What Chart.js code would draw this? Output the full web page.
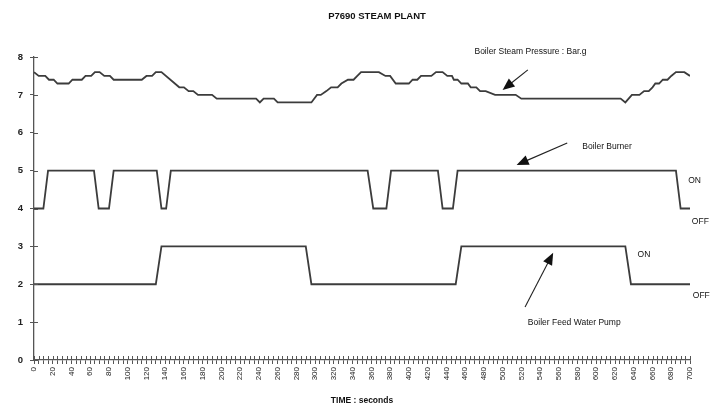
<!DOCTYPE html>
<html>
<head>
<meta charset="utf-8">
<script src="https://cdn.jsdelivr.net/npm/chart.js@4.4.1/dist/chart.umd.min.js"></script>
<style>
  html, body { margin: 0; padding: 0; background: #fff; }
  #wrap { width: 722px; height: 407px; }
</style>
</head>
<body>
<div id="wrap"><canvas id="steamChart"></canvas></div>
<script>
// break points (seconds, value)
const pressureTimes = [0, 5, 12, 16, 21, 25, 37, 41, 51, 55, 61, 65, 70, 75, 81, 85, 115, 120, 126, 130, 136,
  155, 160, 165, 170, 175, 190, 195, 237, 241, 245, 256, 260, 296, 302, 306, 312, 317, 324, 328, 335, 341,
  345, 349, 368, 375, 380, 386, 400, 404, 409, 413, 424, 429, 436, 441, 446, 448, 452, 456, 463, 466, 472,
  476, 482, 492, 514, 520, 626, 631, 638, 646, 651, 656, 660, 663, 667, 671, 676, 680, 685, 694, 700];
const pressureBar = [7.6, 7.5, 7.5, 7.4, 7.4, 7.3, 7.3, 7.4, 7.4, 7.5, 7.5, 7.6, 7.6, 7.5, 7.5, 7.4, 7.4, 7.5, 7.5, 7.6, 7.6,
  7.2, 7.2, 7.1, 7.1, 7.0, 7.0, 6.9, 6.9, 6.8, 6.9, 6.9, 6.8, 6.8, 7.0, 7.0, 7.1, 7.2, 7.2, 7.3, 7.4, 7.4,
  7.5, 7.6, 7.6, 7.5, 7.5, 7.3, 7.3, 7.4, 7.4, 7.5, 7.5, 7.6, 7.6, 7.5, 7.5, 7.4, 7.4, 7.3, 7.3, 7.2, 7.2,
  7.1, 7.1, 7.0, 7.0, 6.9, 6.9, 6.8, 7.0, 7.0, 7.1, 7.1, 7.2, 7.3, 7.3, 7.4, 7.4, 7.5, 7.6, 7.6, 7.5];

const burnerTimes = [0, 10, 15, 64, 69, 80, 85, 131, 136, 141, 146, 356, 362, 376, 381, 431, 436, 447, 452, 685, 690, 700];
const burnerLevel = [4, 4, 5, 5, 4, 4, 5, 5, 4, 4, 5, 5, 4, 4, 5, 5, 4, 4, 5, 5, 4, 4];

const pumpTimes = [0, 130, 136, 290, 296, 450, 456, 631, 637, 700];
const pumpLevel = [2, 2, 3, 3, 2, 2, 3, 3, 2, 2];

const timeMin = 0, timeMax = 700, timeStep = 5, labelStep = 20;
const yMin = 0, yMax = 8;

// notes drawn on the chart, placed in data units
const notes = [
  { text: 'Boiler Steam Pressure : Bar.g', t: 470, v: 8.13 },
  { text: 'Boiler Burner', t: 585, v: 5.63 },
  { text: 'ON', t: 698, v: 4.73 },
  { text: 'OFF', t: 702, v: 3.65 },
  { text: 'ON', t: 644, v: 2.78 },
  { text: 'OFF', t: 703, v: 1.69 },
  { text: 'Boiler Feed Water Pump', t: 527, v: 0.98 }
];
const arrows = [
  { from: [527, 7.66], to: [500, 7.13] },
  { from: [569, 5.73], to: [515, 5.15] },
  { from: [524, 1.40], to: [554, 2.83] }
];

const toPoints = (ts, vs) => ts.map((t, i) => ({ x: t, y: vs[i] }));

const lineStyle = {
  borderColor: '#3c3c3c',
  borderWidth: 1.8,
  pointRadius: 0,
  tension: 0,
  fill: false
};

const extras = {
  id: 'extras',
  afterDraw(chart) {
    const ctx = chart.ctx;
    const xs = chart.scales.x, ys = chart.scales.y;
    ctx.save();
    // inner half of the crossing tick marks
    ctx.strokeStyle = '#555';
    ctx.lineWidth = 1;
    ctx.beginPath();
    xs.ticks.forEach(tk => {
      const px = Math.round(xs.getPixelForValue(tk.value)) + 0.5;
      ctx.moveTo(px, ys.bottom);
      ctx.lineTo(px, ys.bottom - 4);
    });
    ys.ticks.forEach(tk => {
      const py = Math.round(ys.getPixelForValue(tk.value)) + 0.5;
      ctx.moveTo(xs.left, py);
      ctx.lineTo(xs.left + 4, py);
    });
    ctx.stroke();

    // title
    ctx.fillStyle = '#111';
    ctx.font = 'bold 9.5px "Liberation Sans", Arial, sans-serif';
    ctx.textAlign = 'center';
    ctx.textBaseline = 'middle';
    ctx.fillText('P7690 STEAM PLANT', xs.getPixelForValue(366), 16);

    // notes
    ctx.font = '8.5px "Liberation Sans", Arial, sans-serif';
    ctx.textAlign = 'left';
    notes.forEach(n => {
      ctx.fillText(n.text, xs.getPixelForValue(n.t), ys.getPixelForValue(n.v));
    });

    // arrows
    ctx.strokeStyle = '#222';
    ctx.fillStyle = '#111';
    ctx.lineWidth = 1.1;
    arrows.forEach(a => {
      const x1 = xs.getPixelForValue(a.from[0]), y1 = ys.getPixelForValue(a.from[1]);
      const x2 = xs.getPixelForValue(a.to[0]), y2 = ys.getPixelForValue(a.to[1]);
      const ang = Math.atan2(y2 - y1, x2 - x1);
      const len = 12, half = 5;
      ctx.beginPath();
      ctx.moveTo(x1, y1);
      ctx.lineTo(x2 - Math.cos(ang) * len * 0.8, y2 - Math.sin(ang) * len * 0.8);
      ctx.stroke();
      const bx = x2 - Math.cos(ang) * len, by = y2 - Math.sin(ang) * len;
      ctx.beginPath();
      ctx.moveTo(x2, y2);
      ctx.lineTo(bx + Math.sin(ang) * half, by - Math.cos(ang) * half);
      ctx.lineTo(bx - Math.sin(ang) * half, by + Math.cos(ang) * half);
      ctx.closePath();
      ctx.fill();
    });
    ctx.restore();
  }
};

const config = {
  type: 'line',
  data: {
    datasets: [
      { label: 'Boiler Steam Pressure : Bar.g', data: toPoints(pressureTimes, pressureBar), ...lineStyle },
      { label: 'Boiler Burner', data: toPoints(burnerTimes, burnerLevel), ...lineStyle },
      { label: 'Boiler Feed Water Pump', data: toPoints(pumpTimes, pumpLevel), ...lineStyle }
    ]
  },
  options: {
    responsive: true,
    maintainAspectRatio: false,
    animation: false,
    layout: { padding: { left: 0, right: 32, top: 57, bottom: 0 } },
    plugins: {
      legend: { display: false },
      tooltip: { enabled: false }
    },
    scales: {
      x: {
        type: 'linear',
        min: timeMin,
        max: timeMax,
        afterFit: s => { s.height = 47; },
        ticks: {
          stepSize: timeStep,
          autoSkip: false,
          minRotation: 90,
          maxRotation: 90,
          padding: 3,
          color: '#222',
          font: { family: '"Liberation Sans", Arial, sans-serif', size: 8 },
          callback: v => (v % labelStep === 0 ? String(v) : '')
        },
        grid: { drawOnChartArea: false, tickLength: 4, color: '#555' },
        border: { color: '#555', width: 1.3 },
        title: {
          display: true,
          text: 'TIME : seconds',
          color: '#111',
          padding: { top: 0, bottom: 1 },
          font: { family: '"Liberation Sans", Arial, sans-serif', size: 8.5, weight: 'bold' }
        }
      },
      y: {
        min: yMin,
        max: yMax,
        afterFit: s => { s.width = 34; },
        ticks: {
          stepSize: 1,
          padding: 7,
          color: '#222',
          font: { family: '"Liberation Sans", Arial, sans-serif', size: 9.5, weight: 'bold' }
        },
        grid: { drawOnChartArea: false, tickLength: 4, color: '#555' },
        border: { color: '#555', width: 1.3 }
      }
    }
  },
  plugins: [extras]
};

const steamChart = new Chart(document.getElementById('steamChart'), config);
</script>
</body>
</html>
